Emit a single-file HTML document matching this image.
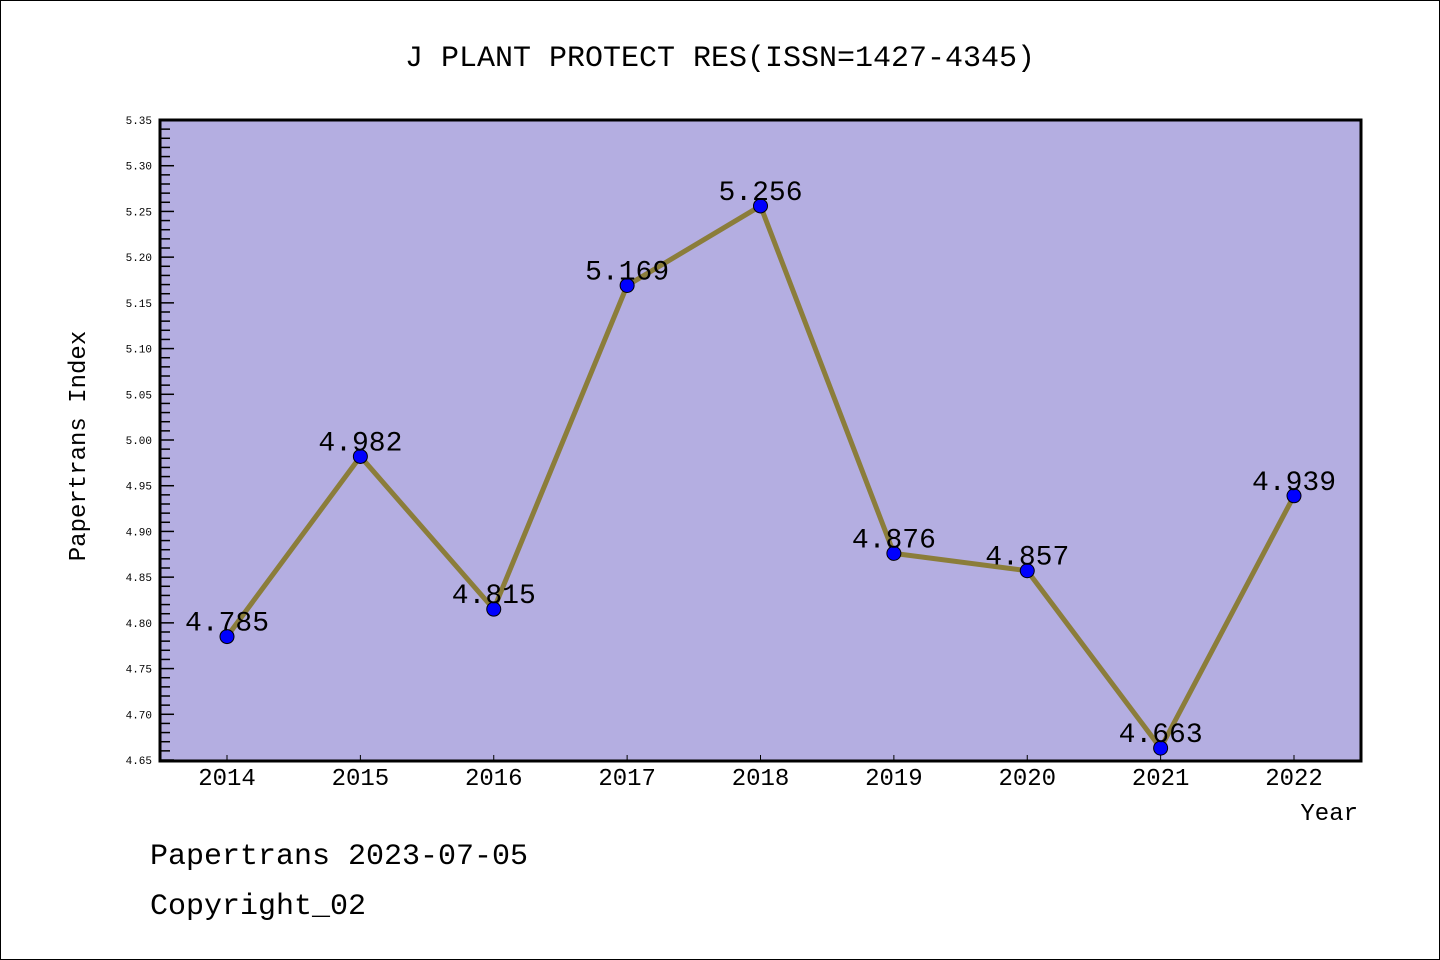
<!DOCTYPE html>
<html><head><meta charset="utf-8"><style>
body{margin:0;background:#fff}
svg{display:block}
text{font-family:"Liberation Mono","Noto Sans CJK SC",monospace}
</style></head><body>
<svg id="c" width="1440" height="960" xmlns="http://www.w3.org/2000/svg">
<rect x="0.5" y="0.5" width="1439" height="959" fill="#fff" stroke="#000"/>
<text x="720" y="66" text-anchor="middle" font-size="30">J PLANT PROTECT RES(ISSN=1427-4345)</text>
<rect x="160" y="120" width="1201" height="641" fill="#b4aee1"/>
<g id="axes"></g>
<g id="series"></g>
<rect x="160" y="120" width="1201" height="641" fill="none" stroke="#000" stroke-width="3"/>
<text x="85" y="446" text-anchor="middle" font-size="24" transform="rotate(-90 85 446)">Papertrans Index</text>
<text x="1358" y="820" text-anchor="end" font-size="24">Year</text>
<text x="150" y="864" font-size="30">Papertrans 2023-07-05</text>
<text x="150" y="914" font-size="30">Copyright_02</text>
</svg>
<script>
const years=["2014","2015","2016","2017","2018","2019","2020","2021","2022"];
const values=[4.785,4.982,4.815,5.169,5.256,4.876,4.857,4.663,4.939];
const labels=["4.785","4.982","4.815","5.169","5.256","4.876","4.857","4.663","4.939"];
const yTicks=["4.65","4.70","4.75","4.80","4.85","4.90","4.95","5.00","5.05","5.10","5.15","5.20","5.25","5.30","5.35"];
const NS="http://www.w3.org/2000/svg";
const yMin=4.65,yMax=5.35,plotTop=120,plotBot=760;
function y(v){return plotBot-(v-yMin)/(yMax-yMin)*(plotBot-plotTop);}
function x(i){return 227+i*(1294-227)/(years.length-1);}
function mk(t,a,p){const e=document.createElementNS(NS,t);for(const k in a)e.setAttribute(k,a[k]);p.appendChild(e);return e;}
const ax=document.getElementById('axes'),se=document.getElementById('series');
for(let k=0;k<=70;k++){const v=yMin+k*0.01,yy=y(v),maj=k%5===0;
 const l=mk('line',{x1:160,x2:160+(maj?14:10),y1:yy,y2:yy,stroke:'#000','stroke-width':1.5},ax);
 
 }
yTicks.forEach(t=>{const e=mk('text',{x:152,y:y(parseFloat(t))+4,'text-anchor':'end','font-size':11,'font-family':'Liberation Sans, sans-serif'},ax);e.textContent=t;
 
 });
years.forEach((yr,i)=>{const l=mk('line',{x1:x(i),x2:x(i),y1:761,y2:755,stroke:'#000','stroke-width':1},ax);
 
 
 const t=mk('text',{x:x(i),y:785,'text-anchor':'middle','font-size':24,'font-family':'Liberation Sans, sans-serif'},ax);t.textContent=yr;
 
 });
const pl=mk('polyline',{points:values.map((v,i)=>x(i)+','+y(v)).join(' '),fill:'none',stroke:'#8b7d3a','stroke-width':5,'stroke-linejoin':'round'},se);


values.forEach((v,i)=>{const c=mk('circle',{cx:x(i),cy:y(v),r:7,fill:'#0000ff',stroke:'#000','stroke-width':1},se);
 
 
 const t=mk('text',{x:x(i),y:y(v)-6,'text-anchor':'middle','font-size':28},se);t.textContent=labels[i];
 
 });
</script>
</body></html>
